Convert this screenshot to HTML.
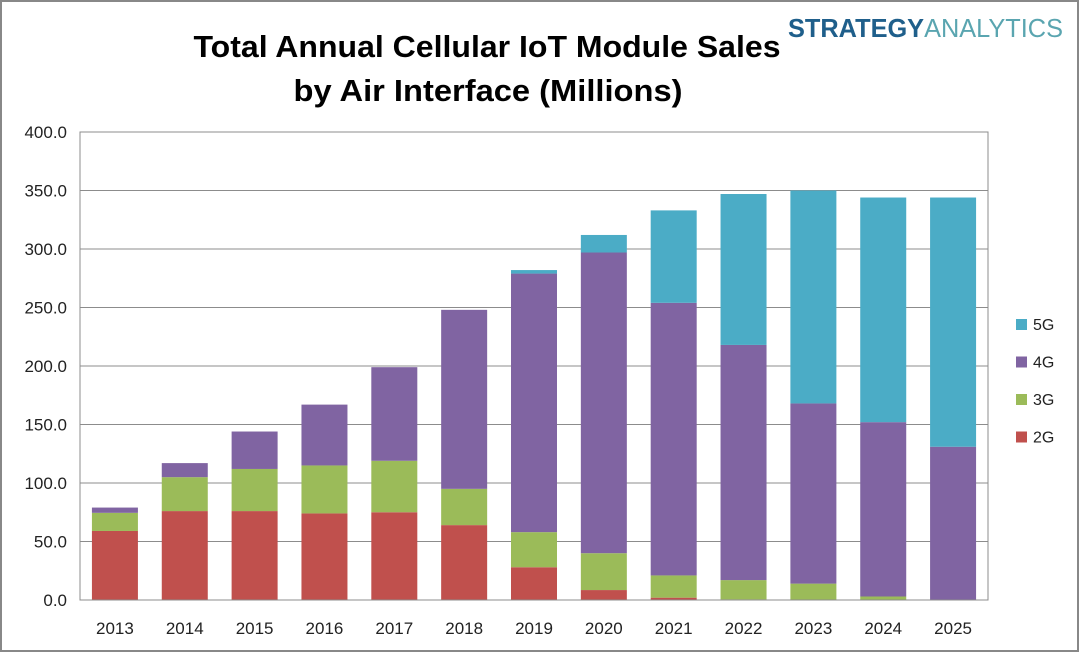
<!DOCTYPE html>
<html><head><meta charset="utf-8"><style>
body{margin:0;background:#fff}
svg{display:block;font-family:"Liberation Sans",Calibri,sans-serif}
</style></head><body>
<svg width="1080" height="653" viewBox="0 0 1080 653">
<rect x="1" y="1" width="1077" height="650" fill="#fff" stroke="#888" stroke-width="2"/>
<text x="487" y="57" text-anchor="middle" font-size="31" font-weight="bold" fill="#000" textLength="587" lengthAdjust="spacingAndGlyphs">Total Annual Cellular IoT Module Sales</text>
<text x="488" y="101" text-anchor="middle" font-size="31" font-weight="bold" fill="#000" textLength="389" lengthAdjust="spacingAndGlyphs">by Air Interface (Millions)</text>
<text x="788" y="37" font-size="26" font-weight="bold" fill="#1f5f8b" textLength="275" lengthAdjust="spacingAndGlyphs">STRATEGY<tspan fill="#5aa5b0" font-weight="normal">ANALYTICS</tspan></text>
<g id="grid"></g><g id="bars"></g><g id="axes"></g><g id="legend"></g>
</svg>
<script>
const categories=["2013","2014","2015","2016","2017","2018","2019","2020","2021","2022","2023","2024","2025"];
const s2G=[59,76,76,74,75,64,28,8.5,2,0.5,0,0,0];
const s3G=[15.5,29,36,41,44,31,30,31.5,19,16.5,14,3,0];
const s4G=[4.5,12,32,52,80,153,221,257,233,201,154,149,131];
const s5G=[0,0,0,0,0,0,3,15,79,129,182,192,213];
const yTicks=[0,50,100,150,200,250,300,350,400];
const seriesNames=["2G","3G","4G","5G"];
const colors=["#c0504d","#9bbb59","#8064a2","#4bacc6"];
const NS="http://www.w3.org/2000/svg";
const L=80,R=988,T=132,B=600;
const y=v=>B-(v/400)*(B-T);
const cw=(R-L)/categories.length;
const x=i=>L+cw*i+cw/2;
function mk(t,a,p){const e=document.createElementNS(NS,t);for(const k in a)e.setAttribute(k,a[k]);p.appendChild(e);return e;}
const grid=document.getElementById('grid'),bars=document.getElementById('bars'),axes=document.getElementById('axes'),leg=document.getElementById('legend');
yTicks.forEach(v=>{
 const l=mk('line',{x1:L,x2:R,y1:y(v),y2:y(v),stroke:'#8c8c8c','stroke-width':1},grid);
 
 
 const t=mk('text',{x:L-13,y:y(v)+6,'text-anchor':'end','font-size':17,fill:'#222'},axes);
 t.textContent=v.toFixed(1);
 
 
});
const fr=mk('rect',{x:L,y:T,width:R-L,height:B-T,fill:'none',stroke:'#8c8c8c'},axes);


const series=[s2G,s3G,s4G,s5G];
const bw=46;
categories.forEach((c,i)=>{
 let acc=0;
 series.forEach((s,k)=>{
  const v=s[i];if(v<=0)return;
  const r=mk('rect',{x:x(i)-bw/2,y:y(acc+v),width:bw,height:y(acc)-y(acc+v),fill:colors[k]},bars);
  
  
  acc+=v;
 });
 const t=mk('text',{x:x(i),y:634,'text-anchor':'middle','font-size':17,fill:'#222'},axes);
 t.textContent=c;
 
 
});
[3,2,1,0].forEach((k,j)=>{
 const yy=324+j*37.5;
 const r=mk('rect',{x:1016,y:yy-5,width:11,height:11,fill:colors[k]},leg);
 
 
 const t=mk('text',{x:1033,y:yy+6,'font-size':16,fill:'#222'},leg);
 t.textContent=seriesNames[k];
 
 
});
</script>
</body></html>
